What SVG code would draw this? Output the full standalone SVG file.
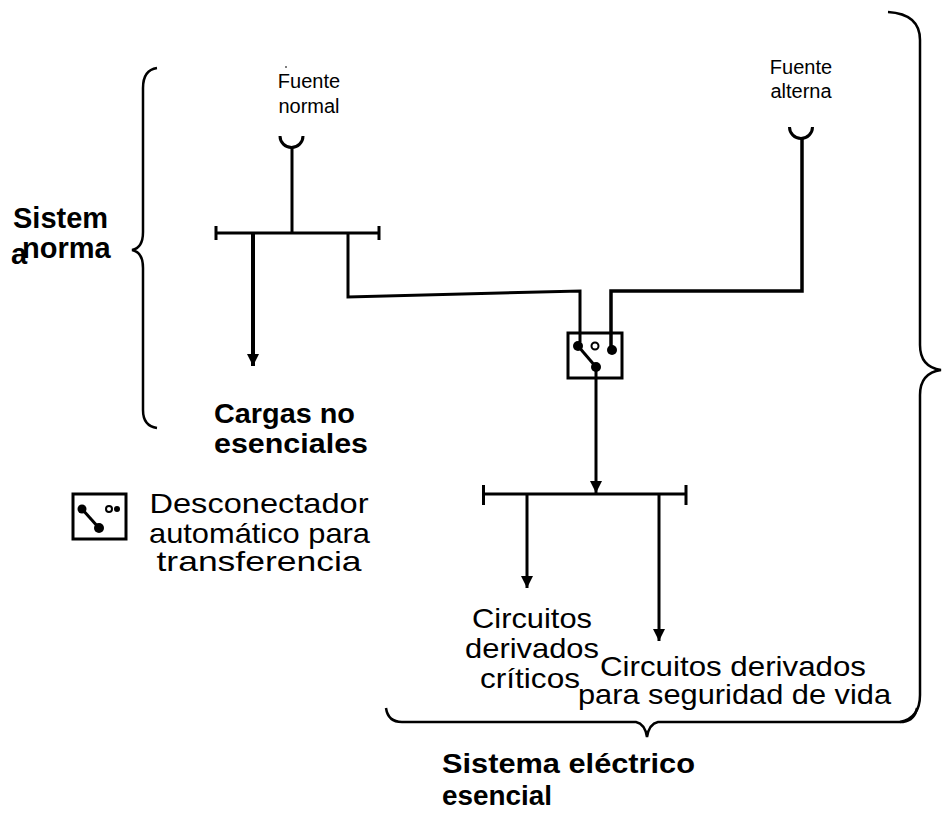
<svg xmlns="http://www.w3.org/2000/svg" width="942" height="813" viewBox="0 0 942 813">
<style>
.ln{stroke:#000;stroke-width:3;fill:none;stroke-linejoin:miter}
.br{stroke:#000;stroke-width:2.5;fill:none}
.t{font-family:"Liberation Sans",Arial,sans-serif;fill:#000}
.b{font-weight:bold}
.dot{fill:#000}
.od{fill:#fff;stroke:#000;stroke-width:2}
</style>
<defs>
<marker id="arr" viewBox="0 0 12 12" refX="12" refY="6" markerWidth="12" markerHeight="12" orient="auto" markerUnits="userSpaceOnUse">
<path d="M0,0 L12,6 L0,12 z" fill="#000"/>
</marker>
</defs>
<rect width="942" height="813" fill="#fff"/>

<g id="connectors">
<path class="ln" d="M280 136 A11.5 11.5 0 0 0 303 136"/>
<path class="ln" d="M292 147.5 L292 233"/>
<path class="ln" d="M216 233 L379 233 M216 226 L216 240 M379 226 L379 240"/>
<path class="ln" style="stroke-width:4" d="M253 233 L253 366" marker-end="url(#arr)"/>
<path class="ln" d="M348 233 L348 297 L580 291 L580 342"/>
<path class="ln" d="M789.5 127 A11.5 11.5 0 0 0 812.5 127"/>
<path class="ln" style="stroke-width:3.5" d="M802 138.5 L802 291 L611 291 L611 350"/>
<path class="ln" d="M596 367 L596 493" marker-end="url(#arr)"/>
<path class="ln" d="M483 494 L686 494 M483.5 485 L483.5 505 M686 485 L686 505"/>
<path class="ln" d="M527 494 L527 588" marker-end="url(#arr)"/>
<path class="ln" d="M659 494 L659 641" marker-end="url(#arr)"/>
</g>

<g id="braces">
<path class="br" d="M157 68 Q143 70 143 88 L143 232 Q143 248 132 250 Q143 252 143 268 L143 410 Q143 426 157 428"/>
<path class="br" d="M888 12 Q920 14 920 40 L920 345 Q920 367 941 370 Q920 373 920 395 L920 695 Q920 718 900 722"/>
<path class="br" d="M386 708 Q388 722 402 722 L636 722 Q645 724 647 737 Q649 724 658 722 L903 722 Q915 720 917 708"/>
</g>

<g id="fuente-normal">
<rect x="285.5" y="66" width="1" height="2" fill="#000"/>
<text class="t" font-size="20" text-anchor="middle" x="309" y="88">Fuente</text>
<text class="t" font-size="20" text-anchor="middle" x="309" y="113">normal</text>
</g>

<g id="fuente-alterna">
<text class="t" font-size="20" text-anchor="middle" x="801" y="74">Fuente</text>
<text class="t" font-size="20" text-anchor="middle" x="801" y="98">alterna</text>
</g>

<g id="switch">
<rect class="ln" x="568" y="333" width="54" height="45"/>
<line class="ln" x1="578" y1="346" x2="596" y2="367"/>
<circle class="dot" cx="578" cy="346" r="5"/>
<circle class="od" cx="595" cy="346" r="3.5"/>
<circle class="dot" cx="612" cy="350" r="5"/>
<circle class="dot" cx="596" cy="367" r="5"/>
</g>

<g id="legend">
<rect class="ln" x="73" y="494" width="53" height="45"/>
<line class="ln" x1="82" y1="509" x2="99" y2="528"/>
<circle class="dot" cx="82" cy="509" r="4.5"/>
<circle class="dot" cx="99" cy="528" r="5"/>
<circle class="od" cx="109" cy="509" r="3"/>
<circle class="dot" cx="117" cy="509" r="3"/>
<text class="t" font-size="28" text-anchor="middle" x="259" y="513" textLength="219" lengthAdjust="spacingAndGlyphs">Desconectador</text>
<text class="t" font-size="28" text-anchor="middle" x="259.5" y="543" textLength="221" lengthAdjust="spacingAndGlyphs">automático para</text>
<text class="t" font-size="28" text-anchor="middle" x="259" y="571" textLength="205" lengthAdjust="spacingAndGlyphs">transferencia</text>
</g>

<g id="sistema-normal">
<text class="t b" font-size="29" x="13" y="228">Sistem</text>
<text class="t b" font-size="29" x="11" y="264">a</text>
<text class="t b" font-size="29" x="22" y="258">norma</text>
</g>

<g id="cargas">
<text class="t b" font-size="28" x="214" y="423" textLength="141" lengthAdjust="spacingAndGlyphs">Cargas no</text>
<text class="t b" font-size="28" x="214" y="453" textLength="154" lengthAdjust="spacingAndGlyphs">esenciales</text>
</g>

<g id="criticos">
<text class="t" font-size="28" text-anchor="middle" x="532" y="628" textLength="120" lengthAdjust="spacingAndGlyphs">Circuitos</text>
<text class="t" font-size="28" text-anchor="middle" x="532" y="658" textLength="134" lengthAdjust="spacingAndGlyphs">derivados</text>
<text class="t" font-size="28" text-anchor="middle" x="530" y="688" textLength="100" lengthAdjust="spacingAndGlyphs">críticos</text>
</g>

<g id="seguridad">
<text class="t" font-size="28" text-anchor="middle" x="733" y="676" textLength="266" lengthAdjust="spacingAndGlyphs">Circuitos derivados</text>
<text class="t" font-size="28" text-anchor="middle" x="734.5" y="704" textLength="313" lengthAdjust="spacingAndGlyphs">para seguridad de vida</text>
</g>

<g id="sistema-esencial">
<text class="t b" font-size="28" x="442" y="773" textLength="253" lengthAdjust="spacingAndGlyphs">Sistema eléctrico</text>
<text class="t b" font-size="28" x="442" y="805" textLength="110" lengthAdjust="spacingAndGlyphs">esencial</text>
</g>
</svg>
